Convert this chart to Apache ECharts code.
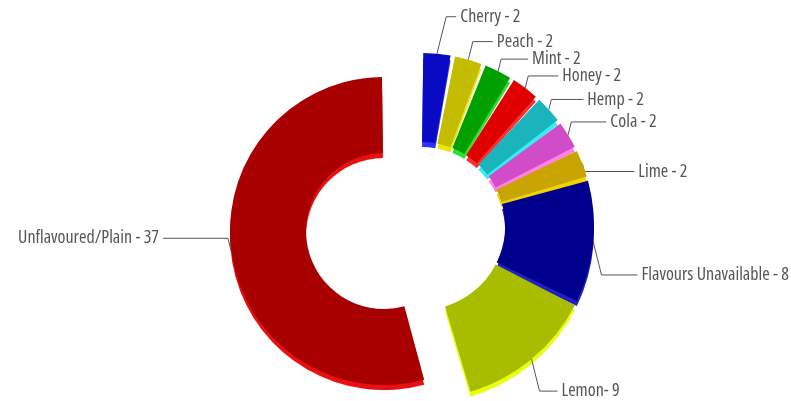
<!DOCTYPE html>
<html>
<head>
<meta charset="utf-8">
<script src="https://cdn.jsdelivr.net/npm/echarts@6/dist/echarts.min.js"></script>
<style>html,body{margin:0;padding:0;background:#fff}#c{width:791px;height:401px}</style>
</head>
<body>
<div id="c"></div>
<script>
// ---- data ----
const categories = ['Cherry', 'Peach', 'Mint', 'Honey', 'Hemp', 'Cola', 'Lime', 'Flavours Unavailable', 'Lemon', 'Unflavoured/Plain'];
const values = [2, 2, 2, 2, 2, 2, 2, 8, 9, 37];
const separators = [' - ', ' - ', ' - ', ' - ', ' - ', ' - ', ' - ', ' - ', '- ', ' - '];

// ---- styles ----
const topColors  = ['#0a0ac4', '#c4bc00', '#00a000', '#e00000', '#1cb4bc', '#d04cc8', '#c8a400', '#00008c', '#a8bc00', '#a80000'];
const sideColors = ['#3030ff', '#e8e800', '#30e030', '#ff3030', '#30f0f0', '#ff80e8', '#f0d400', '#2020c0', '#e8ff10', '#e81010'];
const exploded = [false, false, false, false, false, false, false, false, false, true];
// label leader: vertical rise from the slice anchor, horizontal run after the elbow
const labelRise = [-37, -18, -12, -12, -10, -13, 8, 33, 32, -14];
const labelRun  = [10, 20, 27, 30, 32, 35, 50, 36, 18, -65];

function makeData(wantExploded, colors, withLabel) {
  return categories.map((name, i) => {
    const visible = exploded[i] === wantExploded;
    return {
      name: name,
      value: values[i],
      itemStyle: { color: visible ? colors[i] : 'rgba(0,0,0,0)' },
      label: { show: withLabel && visible },
      labelLine: { show: withLabel && visible }
    };
  });
}

const labelFont = {
  fontFamily: '"Open Sans", "DejaVu Sans Condensed", sans-serif',
  fontStyle: 'normal',
  fontWeight: 'condensed',
  fontSize: 18,
  color: '#555555'
};

function layoutLabel(params) {
  const i = params.dataIndex;
  const pts = params.labelLinePoints;
  if (!pts) return {};
  const a = pts[0];
  const rise = labelRise[i], run = labelRun[i];
  const y = a[1] + rise;
  const dir = run >= 0 ? 1 : -1;
  const elbowX = a[0] + dir * Math.abs(rise) * 0.25;
  const endX = elbowX + run;
  return {
    x: endX + dir * 4,
    y: y,
    align: dir > 0 ? 'left' : 'right',
    verticalAlign: 'middle',
    labelLinePoints: [a, [elbowX, y], [endX, y]]
  };
}

function pie(center, radius, wantExploded, colors, withLabel, z) {
  return {
    type: 'pie',
    center: center,
    radius: radius,
    startAngle: 90,
    clockwise: true,
    padAngle: 1.5,
    avoidLabelOverlap: false,
    silent: true,
    animation: false,
    z: z,
    label: Object.assign({
      show: true,
      position: 'outside',
      overflow: 'none',
      formatter: p => p.name + separators[p.dataIndex] + p.value
    }, labelFont),
    labelLine: { length: 10, length2: 10, lineStyle: { color: '#555555', width: 1 }, smooth: false },
    labelLayout: withLabel ? layoutLabel : null,
    data: makeData(wantExploded, colors, withLabel)
  };
}

const chart = echarts.init(document.getElementById('c'), null, { renderer: 'canvas' });
chart.setOption({
  backgroundColor: '#ffffff',
  series: [
    pie([384, 236], [78, 154], true, sideColors, false, 1),
    pie([384, 231], [78, 154], true, topColors, true, 2),
    pie([421, 231], [84, 173], false, sideColors, false, 3),
    pie([421, 226], [84, 173], false, topColors, true, 4)
  ]
});
</script>
</body>
</html>
